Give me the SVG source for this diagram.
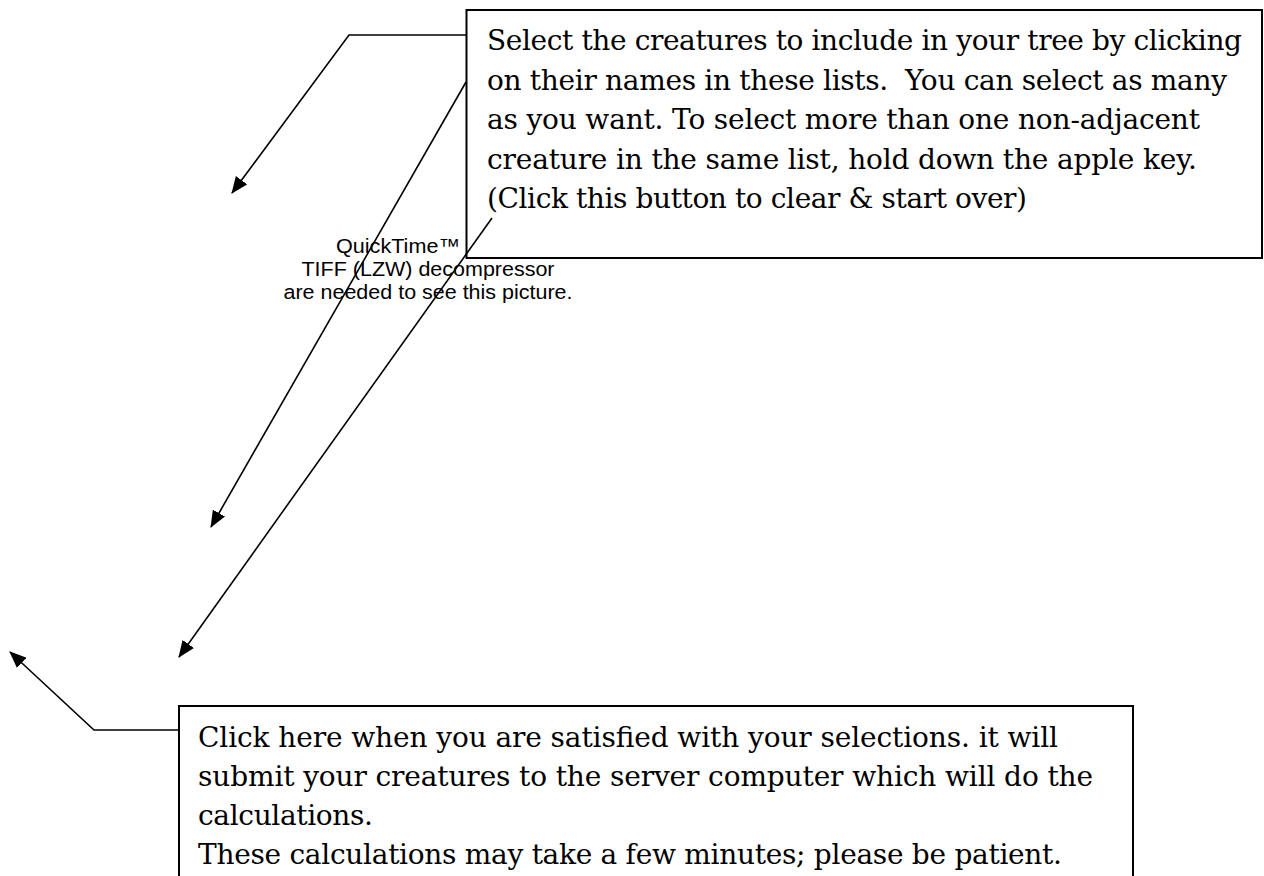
<svg xmlns="http://www.w3.org/2000/svg" width="1264" height="876" viewBox="0 0 1264 876">
<style>
.box{fill:#fff;stroke:#000;stroke-width:2}
.t{font-family:"DejaVu Serif","Liberation Serif",serif;font-size:28px;fill:#000}
.qt{font-family:"Liberation Sans",Arial,sans-serif;font-size:20.5px;fill:#000}
.con{fill:none;stroke:#000;stroke-width:1.6}
</style>
<defs>
<marker id="arr" markerWidth="17" markerHeight="14" refX="16" refY="7" orient="auto" markerUnits="userSpaceOnUse">
<path d="M0,0 L17,7 L0,14 z" fill="#000"/>
</marker>
</defs>
<rect width="1264" height="876" fill="#fff"/>
<g id="placeholder">
<text class="qt" x="336" y="253" textLength="124" lengthAdjust="spacingAndGlyphs">QuickTime™</text>
<text class="qt" x="301.5" y="276" textLength="253" lengthAdjust="spacingAndGlyphs">TIFF (LZW) decompressor</text>
<text class="qt" x="283.5" y="299" textLength="289" lengthAdjust="spacingAndGlyphs">are needed to see this picture.</text>
</g>
<g id="note-select">
<rect class="box" x="466.5" y="10" width="795.5" height="248"/>
<text class="t" xml:space="preserve" lengthAdjust="spacingAndGlyphs">
<tspan x="487" y="50" textLength="755">Select the creatures to include in your tree by clicking</tspan>
<tspan x="487" y="89.5" textLength="740">on their names in these lists.  You can select as many</tspan>
<tspan x="487" y="129" textLength="713">as you want. To select more than one non-adjacent</tspan>
<tspan x="487" y="168.5" textLength="710">creature in the same list, hold down the apple key.</tspan>
<tspan x="487" y="208" textLength="540">(Click this button to clear &amp; start over)</tspan>
</text>
</g>
<g id="note-submit">
<rect class="box" x="179" y="706" width="954" height="200"/>
<text class="t" xml:space="preserve" lengthAdjust="spacingAndGlyphs">
<tspan x="198" y="747" textLength="860">Click here when you are satisfied with your selections. it will</tspan>
<tspan x="198" y="786" textLength="895">submit your creatures to the server computer which will do the</tspan>
<tspan x="198" y="825" textLength="175">calculations.</tspan>
<tspan x="198" y="864" textLength="864">These calculations may take a few minutes; please be patient.</tspan>
</text>
</g>
<g id="connectors">
<polyline class="con" points="466,35 349,35 232,193" marker-end="url(#arr)"/>
<line class="con" x1="466" y1="82" x2="211" y2="527" marker-end="url(#arr)"/>
<line class="con" x1="492" y1="218" x2="179" y2="657" marker-end="url(#arr)"/>
<polyline class="con" points="179,730 94,730 10,652" marker-end="url(#arr)"/>
</g>
</svg>
